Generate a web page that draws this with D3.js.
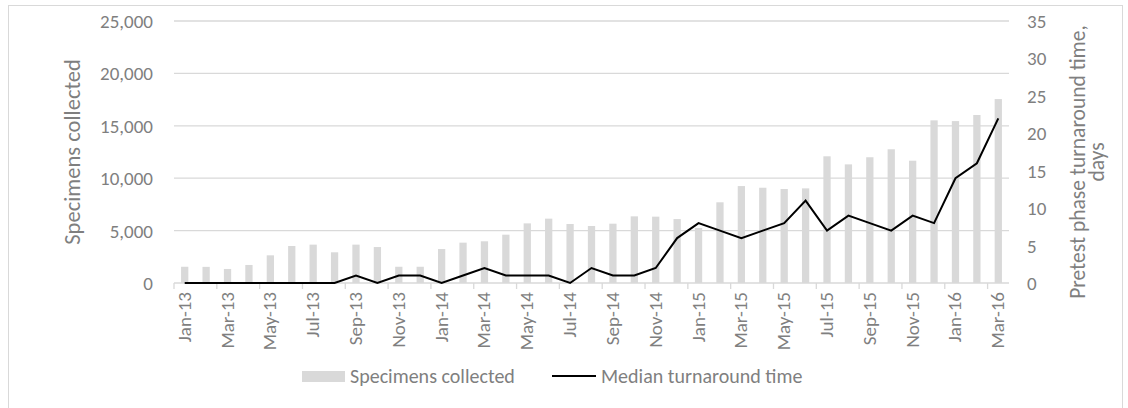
<!DOCTYPE html>
<html>
<head>
<meta charset="utf-8">
<script src="https://cdn.jsdelivr.net/npm/d3@7"></script>
<style>
  body { margin: 0; background: #fff; }
  text { font-family: Calibri, Carlito, "Open Sans", sans-serif; fill: #7f7f7f; }
</style>
</head>
<body>
<svg width="1128" height="408"></svg>
<script>
const monthNames = ["Jan","Feb","Mar","Apr","May","Jun","Jul","Aug","Sep","Oct","Nov","Dec"];
const months = [];
for (let y = 13; y <= 16; y++) {
  for (let m = 0; m < 12; m++) {
    if (y === 16 && m > 2) break;
    months.push(monthNames[m] + "-" + y);
  }
}

const specimens = [1550, 1540, 1340, 1720, 2640, 3530, 3660, 2930, 3660, 3430, 1550, 1550,
  3240, 3850, 3980, 4610, 5690, 6140, 5630, 5440, 5660, 6360, 6330, 6100,
  5250, 7700, 9250, 9090, 8970, 9030, 12090, 11320, 12000, 12760, 11670, 15520,
  15450, 16030, 17550];

const turnaround = [0, 0, 0, 0, 0, 0, 0, 0, 1, 0, 1, 1,
  0, 1, 2, 1, 1, 1, 0, 2, 1, 1, 2, 6,
  8, 7, 6, 7, 8, 11, 7, 9, 8, 7, 9, 8,
  14, 16, 22];

const leftTicks = [0, 5000, 10000, 15000, 20000, 25000];
const rightTicks = [0, 5, 10, 15, 20, 25, 30, 35];

const svg = d3.select("svg");

// outer border
svg.append("rect")
  .attr("x", 8.5).attr("y", 5.5)
  .attr("width", 1114).attr("height", 410)
  .attr("fill", "none").attr("stroke", "#d9d9d9");

const pLeft = 174, pRight = 1009, pTop = 21, pBottom = 283;

const x = d3.scaleBand().domain(months).range([pLeft, pRight]).paddingInner(0.66).paddingOuter(0.33);
const yL = d3.scaleLinear().domain([0, 25000]).range([pBottom, pTop]);
const yR = d3.scaleLinear().domain([0, 35]).range([pBottom, pTop]);

// gridlines
svg.append("g")
  .selectAll("line")
  .data(leftTicks.slice(1))
  .enter().append("line")
  .attr("x1", pLeft).attr("x2", pRight)
  .attr("y1", d => yL(d)).attr("y2", d => yL(d))
  .attr("stroke", "#d9d9d9").attr("stroke-width", 1.3);

// bars
svg.append("g")
  .selectAll("rect")
  .data(specimens)
  .enter().append("rect")
  .attr("x", (d, i) => x(months[i]))
  .attr("width", x.bandwidth())
  .attr("y", d => yL(d))
  .attr("height", d => pBottom - yL(d))
  .attr("fill", "#d9d9d9");

// x axis line
svg.append("line")
  .attr("x1", pLeft).attr("x2", pRight)
  .attr("y1", pBottom).attr("y2", pBottom)
  .attr("stroke", "#d9d9d9").attr("stroke-width", 1.3);

// x tick marks every 2 months at band boundaries
const step = x.step();
svg.append("g")
  .selectAll("line")
  .data(d3.range(0, months.length + 1, 2))
  .enter().append("line")
  .attr("x1", i => pLeft + i * step).attr("x2", i => pLeft + i * step)
  .attr("y1", pBottom).attr("y2", pBottom + 6)
  .attr("stroke", "#d9d9d9").attr("stroke-width", 1.3);

// x labels
svg.append("g")
  .selectAll("text")
  .data(months.filter((d, i) => i % 2 === 0))
  .enter().append("text")
  .attr("transform", d => "translate(" + (x(d) + x.bandwidth() / 2 + 6) + "," + (pBottom + 9) + ") rotate(-90)")
  .attr("text-anchor", "end")
  .style("font-size", "19px")
  .text(d => d);

// line
const line = d3.line()
  .x((d, i) => x(months[i]) + x.bandwidth() / 2)
  .y(d => yR(d));

svg.append("path")
  .datum(turnaround)
  .attr("d", line)
  .attr("fill", "none")
  .attr("stroke", "#000")
  .attr("stroke-width", 2);

// left axis labels
svg.append("g")
  .selectAll("text")
  .data(leftTicks)
  .enter().append("text")
  .attr("x", 153)
  .attr("y", d => yL(d) + 7)
  .attr("text-anchor", "end")
  .style("font-size", "19px")
  .text(d => d3.format(",")(d));

// right axis labels
svg.append("g")
  .selectAll("text")
  .data(rightTicks)
  .enter().append("text")
  .attr("x", 1027)
  .attr("y", d => yR(d) + 7)
  .style("font-size", "19px")
  .text(d => d);

// axis titles
svg.append("text")
  .attr("transform", "translate(80,152) rotate(-90)")
  .attr("text-anchor", "middle")
  .style("font-size", "22.5px")
  .text("Specimens collected");

const rt = svg.append("text")
  .attr("transform", "translate(1085,162) rotate(-90)")
  .attr("text-anchor", "middle")
  .style("font-size", "21.5px");
rt.append("tspan").attr("x", 0).attr("dy", 0).text("Pretest phase turnaround time,");
rt.append("tspan").attr("x", 0).attr("dy", 19).text("days");

// legend
svg.append("rect")
  .attr("x", 302).attr("y", 371)
  .attr("width", 43).attr("height", 11)
  .attr("fill", "#d9d9d9");
svg.append("text")
  .attr("x", 350).attr("y", 383)
  .style("font-size", "20px")
  .text("Specimens collected");
svg.append("line")
  .attr("x1", 552).attr("x2", 596)
  .attr("y1", 376).attr("y2", 376)
  .attr("stroke", "#000").attr("stroke-width", 2);
svg.append("text")
  .attr("x", 601).attr("y", 383)
  .style("font-size", "20px")
  .text("Median turnaround time");
</script>
</body>
</html>
